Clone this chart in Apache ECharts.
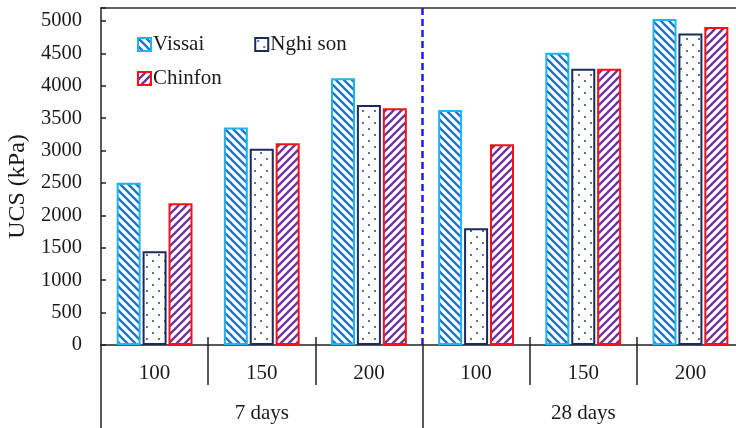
<!DOCTYPE html>
<html>
<head>
<meta charset="utf-8">
<script src="https://cdn.jsdelivr.net/npm/echarts@6/dist/echarts.min.js"></script>
<style>
html,body{margin:0;padding:0;background:#fff;}
#c{width:736px;height:428px;}
</style>
</head>
<body>
<div id="c"></div>
<script>
const categories = ['100','150','200','100','150','200'];
const groups = ['7 days','28 days'];
const vissai = [2505, 3355, 4115, 3628, 4510, 5030];
const nghiSon = [1445, 3030, 3705, 1800, 4262, 4805];
const chinfon = [2187, 3112, 3655, 3097, 4262, 4905];
const yTicksMax = 5000;

function stripes(dir, color) {
  const s = 8, c = document.createElement('canvas');
  c.width = s; c.height = s;
  const g = c.getContext('2d');
  g.fillStyle = '#fff'; g.fillRect(0,0,s,s);
  g.strokeStyle = color; g.lineWidth = 2.3;
  g.beginPath();
  for (let k = -1; k <= 1; k++) {
    if (dir === 'back') { g.moveTo(k*s - 1, -1); g.lineTo(k*s + s + 1, s + 1); }
    else { g.moveTo(k*s - 1, s + 1); g.lineTo(k*s + s + 1, -1); }
  }
  g.stroke();
  return c;
}
function dots(color) {
  const s = 12, c = document.createElement('canvas');
  c.width = s; c.height = s;
  const g = c.getContext('2d');
  g.fillStyle = '#fff'; g.fillRect(0,0,s,s);
  g.fillStyle = color;
  g.fillRect(2,2,2,2);
  g.fillRect(8,8,2,2);
  return c;
}

const font = '"Liberation Serif", "Times New Roman", serif';
const txt = '#1a1a1a';
const chart = echarts.init(document.getElementById('c'), null, {renderer:'canvas'});

function barSeries(name, data, pattern, border) {
  return {
    name, type:'bar', data, xAxisIndex:0, yAxisIndex:0,
    barWidth:24, barGap:'8%',
    itemStyle:{ color:{image:pattern, repeat:'repeat'}, borderColor:border, borderWidth:2 },
    emphasis:{disabled:true}
  };
}

chart.setOption({
  animation:false,
  backgroundColor:'#fff',
  textStyle:{fontFamily:font, color:txt},
  grid:{left:101, top:8, width:643, bottom:83, containLabel:false, outerBoundsMode:'none'},
  legend:[
    {data:['Vissai','Nghi son'], left:132, top:29, itemWidth:13, itemHeight:13, itemGap:50,
     icon:'rect', textStyle:{fontFamily:font, fontSize:21, color:txt, padding:[0,0,0,-3]}},
    {data:['Chinfon'], left:132, top:63, itemWidth:13, itemHeight:13,
     icon:'rect', textStyle:{fontFamily:font, fontSize:21, color:txt, padding:[0,0,0,-3]}}
  ],
  xAxis:[
    {type:'category', data:categories, position:'bottom', gridIndex:0,
     axisLine:{show:true, lineStyle:{color:'#222', width:1.5}},
     axisTick:{show:true, interval:0, length:40, inside:false, lineStyle:{color:'#222', width:1.5}},
     axisLabel:{interval:0, margin:18, fontFamily:font, fontSize:21, color:txt},
     splitLine:{show:false}},
    {type:'category', data:groups, position:'bottom', gridIndex:0,
     axisLine:{show:false},
     axisTick:{show:true, interval:0, length:83, inside:false, lineStyle:{color:'#222', width:1.5}},
     axisLabel:{interval:0, margin:58, fontFamily:font, fontSize:21, color:txt},
     splitLine:{show:true, interval:0, showMinLine:false, showMaxLine:false,
       lineStyle:{color:'#1a1aff', width:2.5, type:[7,4]}}},
    {type:'category', data:categories, position:'top', gridIndex:0,
     axisLine:{show:true, lineStyle:{color:'#333', width:1.5}},
     axisTick:{show:false}, axisLabel:{show:false}, splitLine:{show:false}},
    {type:'category', data:categories, position:'bottom', gridIndex:0,
     axisLine:{show:false},
     axisTick:{show:true, inside:true, length:8, interval:function(i){return i!==0 && i!==3;}, lineStyle:{color:'#222', width:1.5}},
     axisLabel:{show:false}, splitLine:{show:false}}
  ],
  yAxis:{
    type:'value', min:0, max:5200, interval:500,
    name:'UCS (kPa)', nameLocation:'middle', nameGap:58,
    nameTextStyle:{fontFamily:font, fontSize:24, color:txt, padding:[0,20,0,0]},
    axisLine:{show:true, lineStyle:{color:'#222', width:1.5}},
    axisTick:{show:true, inside:true, length:5, lineStyle:{color:'#222', width:1.5}},
    axisLabel:{margin:19, fontFamily:font, fontSize:20.5, color:txt,
      formatter:function(v){return v > yTicksMax ? '' : String(v);}},
    splitLine:{show:false}
  },
  series:[
    barSeries('Vissai', vissai, stripes('back','#1f74c4'), '#1eb4f0'),
    barSeries('Nghi son', nghiSon, dots('#5b6fae'), '#1c2a5e'),
    barSeries('Chinfon', chinfon, stripes('fwd','#7030a0'), '#ff1010')
  ]
});
</script>
</body>
</html>
